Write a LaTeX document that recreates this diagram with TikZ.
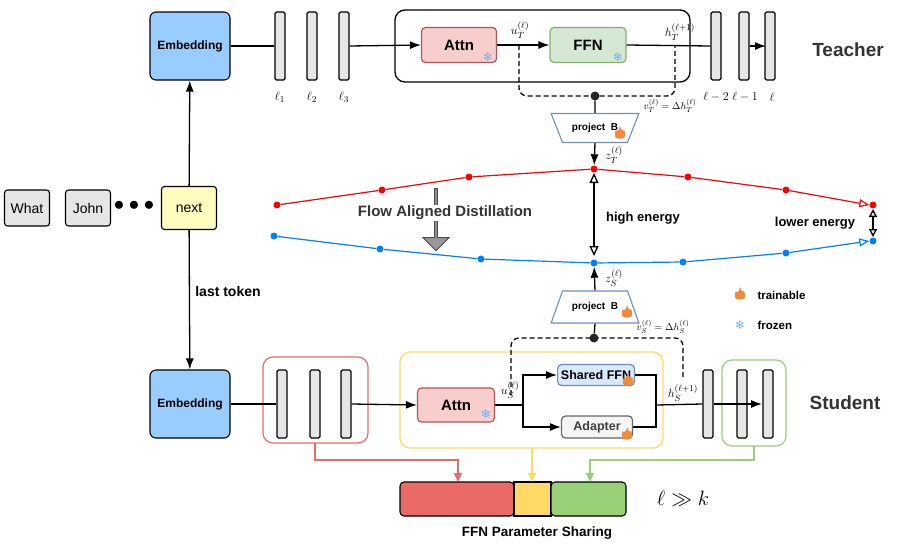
\documentclass[tikz,border=0pt]{standalone}
\usepackage{fontspec}
\usepackage{amssymb}
\setmainfont{Liberation Sans}
\newfontfamily\djv{DejaVu Sans}
\usetikzlibrary{arrows.meta,shapes.geometric,shapes.arrows}
\definecolor{embc}{HTML}{99CCFF}
\definecolor{attnf}{HTML}{F8CECC}\definecolor{attnd}{HTML}{B85450}
\definecolor{ffnf}{HTML}{D5E8D4}\definecolor{ffnd}{HTML}{82B366}
\definecolor{shf}{HTML}{DAE8FC}\definecolor{shd}{HTML}{6C8EBF}
\definecolor{redb}{HTML}{EA6B66}\definecolor{yelb}{HTML}{FFD966}\definecolor{grnb}{HTML}{97D077}
\definecolor{barf}{HTML}{E6E6E6}\definecolor{snow}{HTML}{66B2FF}\definecolor{fire}{HTML}{F08A3C}
\definecolor{tblue}{HTML}{007FFF}
\newcommand{\fs}[1]{\fontsize{#1}{#1}\selectfont}
\tikzset{
 bar/.style={draw,fill=barf,rounded corners=1.5pt,minimum width=10pt,minimum height=68pt,inner sep=0pt,line width=1.2pt},
 emb/.style={draw,fill=embc,rounded corners=6pt,minimum width=80pt,minimum height=68pt,font=\bfseries\fs{12},line width=1.1pt},
 blk/.style={draw,rounded corners=4pt,font=\bfseries\fs{15},line width=1.2pt},
 tok/.style={draw,fill=barf,rounded corners=3pt,minimum width=45pt,minimum height=36pt,line width=1.1pt,font=\fs{14}},
 arr/.style={-{Latex[length=11pt,width=8pt]},line width=1.3pt},
 ln/.style={line width=1.3pt},
 dsh/.style={dash pattern=on 5pt off 3pt,line width=1.3pt,rounded corners=8pt},
 dot/.style={circle,fill=black!85,inner sep=0pt,minimum size=9pt},
 rdot/.style={circle,fill=red,inner sep=0pt,minimum size=7pt},
 bdot/.style={circle,fill=tblue,inner sep=0pt,minimum size=7pt},
 lbl/.style={inner sep=1pt,font=\fs{13}},
 slbl/.style={inner sep=1pt,font=\fs{10}},
}
\newcommand{\snowi}[1]{\node[text=snow,font=\djv\fs{12},inner sep=0pt] at (#1) {❄};}
\newcommand{\firei}[1]{\begin{scope}[shift={(#1)},scale=1.4]\fill[fire] (0,4) .. controls (-5,4) and (-4,1) .. (-3,-2) .. controls (-2,0) and (0,-3) .. (0,-5) .. controls (0,-3) and (2,-1) .. (3,-2) .. controls (4,1) and (5,4) .. (0,4) -- cycle;\end{scope}}
\begin{document}
\begin{tikzpicture}[x=1pt,y=-1pt]
\useasboundingbox (0,0) rectangle (901,552);
% Teacher
\node[emb] (te) at (190,46) {Embedding};
\node[bar] (t1) at (280,46) {};\node[bar] (t2) at (312,46) {};\node[bar] (t3) at (344,46) {};
\node[lbl] at (280,97) {$\ell_1$};\node[lbl] at (312,97) {$\ell_2$};\node[lbl] at (344,97) {$\ell_3$};
\draw[line width=1.3pt,rounded corners=10pt] (395,10) rectangle (690,82);
\node[blk,fill=attnf,draw=attnd,minimum width=75pt,minimum height=35pt] (ta) at (459,45) {Attn};
\node[blk,fill=ffnf,draw=ffnd,minimum width=76pt,minimum height=35pt] (tf) at (588,45) {FFN};
\snowi{488,57}\snowi{618,57}
\node[bar] (t4) at (716,46) {};\node[bar] (t5) at (744,46) {};\node[bar] (t6) at (770,46) {};
\node[lbl] at (716,97) {$\ell-2$};\node[lbl] at (745,97) {$\ell-1$};\node[lbl] at (772,97) {$\ell$};
\draw[ln] (te.east) -- (t1.west);
\draw[arr] (t3.east) -- (ta.west);
\draw[arr] (ta.east) -- (tf.west);
\draw[ln] (tf.east) -- (t4.west); \draw[arr] (t5.east) -- (766,46);
\node[lbl] at (520,30) {$u_T^{(\ell)}$};
\node[lbl] at (680,32) {$h_T^{(\ell+1)}$};
\draw[dsh] (519,45) -- (519,96) -- (675,96) -- (675,45);
\node[dot] (td) at (595,96) {};
\node[slbl] at (670,106) {$v_T^{(\ell)}=\Delta h_T^{(\ell)}$};
\node[trapezium,shape border rotate=180,trapezium stretches=true,draw=shd,line width=1.1pt,minimum width=88pt,minimum height=29pt,font=\bfseries\fs{10}] (tp) at (595,128) {project\ \ B};
\firei{620,133}
\node[rdot] (tz) at (594,169) {};
\draw[ln] (td) -- (tp.north);
\draw[arr] (tp.south) -- (tz);
\node[lbl] at (614,155) {$z_T^{(\ell)}$};
% curves
\node[rdot] (r1) at (277,205) {};\node[rdot] (r2) at (382,190) {};\node[rdot] (r3) at (469,177) {};
\node[rdot] (r5) at (688,177) {};\node[rdot] (r6) at (786,190) {};\node[rdot] (r7) at (873,205) {};
\draw[red,line width=1.2pt] (r1) -- (r2) -- (r3) -- (tz) -- (r5) -- (r6);
\draw[red,line width=1.2pt,-{Triangle[open,length=10pt,width=8pt]}] (r6) -- (r7.west);
\node[bdot] (b1) at (274,236) {};\node[bdot] (b2) at (380,249) {};\node[bdot] (b3) at (481,259) {};
\node[bdot] (sz) at (594,263) {};\node[bdot] (b5) at (683,262) {};\node[bdot] (b6) at (786,253) {};\node[bdot] (b7) at (873,241) {};
\draw[tblue,line width=1.2pt] (b1) -- (b2) -- (b3) -- (sz) -- (b5) -- (b6);
\draw[tblue,line width=1.2pt,-{Triangle[open,length=10pt,width=8pt]}] (b6) -- (b7.west);
\draw[line width=1.3pt,{Triangle[open,length=10pt,width=9pt]}-{Triangle[open,length=10pt,width=9pt]}] (594,173) -- (594,256);
\draw[line width=1.3pt,{Triangle[open,length=8pt,width=8pt]}-{Triangle[open,length=8pt,width=8pt]}] (873,209) -- (873,237);
\node[font=\bfseries\fs{13}] at (643,218) {high energy};
\node[font=\bfseries\fs{13}] at (815,223) {lower energy};
\node[single arrow,shape border rotate=270,draw=black!70,fill=black!40,minimum height=62pt,minimum width=26pt,single arrow head extend=4pt,inner sep=0pt,line width=1pt] (fa) at (436,219) {};
\node[font=\bfseries\fs{15},text=black!80,fill=white,inner sep=1pt] at (445,213) {Flow Aligned Distillation};
% tokens
\node[tok] (w) at (27,208) {What};
\node[tok] (j) at (88,208) {John};
\node[font=\fs{22}] at (134,206) {$\bullet\bullet\bullet$};
\node[tok,fill=yellow!25,minimum width=55pt,minimum height=43pt] (nx) at (189,208) {next};
\draw[arr] (nx) -- (te);
\node[emb] (se) at (190,404) {Embedding};
\draw[arr] (nx) -- (se);
\node[font=\bfseries\fs{14}] at (228,291) {last token};
% Student
\draw[redb,line width=1.2pt,rounded corners=10pt] (263,357) rectangle (368,443);
\node[bar] (s1) at (282,404) {};\node[bar] (s2) at (315,404) {};\node[bar] (s3) at (346,404) {};
\draw[yelb,line width=1.2pt,rounded corners=10pt] (400,352) rectangle (663,448);
\node[blk,fill=attnf,draw=attnd,minimum width=77pt,minimum height=34pt] (sa) at (456,405) {Attn};
\snowi{486,414}
\node[blk,fill=shf,draw=shd,minimum width=75pt,minimum height=21pt,font=\bfseries\fs{12.5}] (sf) at (596,375) {Shared FFN};
\node[blk,fill=black!4,draw=black!60,text=black!75,minimum width=71pt,minimum height=22pt,font=\bfseries\fs{12.5}] (sd) at (597,427) {Adapter};
\firei{628,380}\firei{627,434}
\draw[ln] (se.east) -- (s1.west);
\draw[arr] (s3.east) -- (sa.west);
\coordinate (sp) at (523,405);
\draw[ln] (sa.east) -- (sp);
\draw[arr] (sp) |- (sf.west);
\draw[arr] (sp) |- (sd.west);
\coordinate (mg) at (656,405);
\draw[ln] (sf.east) -| (mg);\draw[ln] (sd.east) -| (mg);
\node[bar] (s4) at (708,404) {};
\draw[grnb,line width=1.2pt,rounded corners=10pt] (722,360) rectangle (786,446);
\node[bar] (s5) at (742,404) {};\node[bar] (s6) at (768,404) {};
\draw[ln] (mg) -- (s4.west); \draw[arr] (s4.east) -- (762,404);
\node[lbl] at (510,390) {$u_S^{(\ell)}$};
\node[lbl] at (683,393) {$h_S^{(\ell+1)}$};
\draw[dsh] (511,395) -- (511,338) -- (683,338) -- (683,380);
\node[dot] (sdt) at (594,338) {};
\node[trapezium,trapezium stretches=true,draw=shd,line width=1.1pt,minimum width=88pt,minimum height=32pt,font=\bfseries\fs{10}] (sp2) at (595,307) {project\ \ B};
\firei{627,312}
\draw[ln] (sdt) -- (sp2.south);
\draw[arr] (sp2.north) -- (sz);
\node[lbl] at (614,278) {$z_S^{(\ell)}$};
\node[slbl] at (663,327) {$v_S^{(\ell)}=\Delta h_S^{(\ell)}$};
% titles, legend
\node[font=\bfseries\fs{19},text=black!80] at (848,50) {Teacher};
\node[font=\bfseries\fs{19},text=black!80] at (845,403) {Student};
\firei{740,294}\node[font=\bfseries\fs{11.5},anchor=west] at (754,295) {trainable};
\snowi{740,325}\node[font=\bfseries\fs{11.5},anchor=west] at (754,325) {frozen};
% bottom
\node[draw,fill=redb,rounded corners=4pt,minimum width=114pt,minimum height=34pt,inner sep=0pt,line width=1.1pt] (pr) at (457,499) {};
\node[draw,fill=yelb,minimum width=37pt,minimum height=34pt,inner sep=0pt,line width=1.1pt] (py) at (532.5,499) {};
\node[draw,fill=grnb,rounded corners=4pt,minimum width=75pt,minimum height=34pt,inner sep=0pt,line width=1.1pt] (pg) at (588.5,499) {};
\node[font=\bfseries\fs{13.5}] at (537,533) {FFN Parameter Sharing};
\node[font=\fs{22}] at (683,499) {$\ell \gg k$};
\draw[redb,line width=1.2pt,-{Triangle[length=9pt,width=8pt]}] (315,443) -- (315,460) -| (458,482);
\draw[yelb,line width=1.2pt,-{Triangle[length=9pt,width=8pt]}] (532,448) -- (532,482);
\draw[grnb,line width=1.2pt,-{Triangle[length=9pt,width=8pt]}] (754,446) -- (754,460) -| (590,482);
\end{tikzpicture}
\end{document}
